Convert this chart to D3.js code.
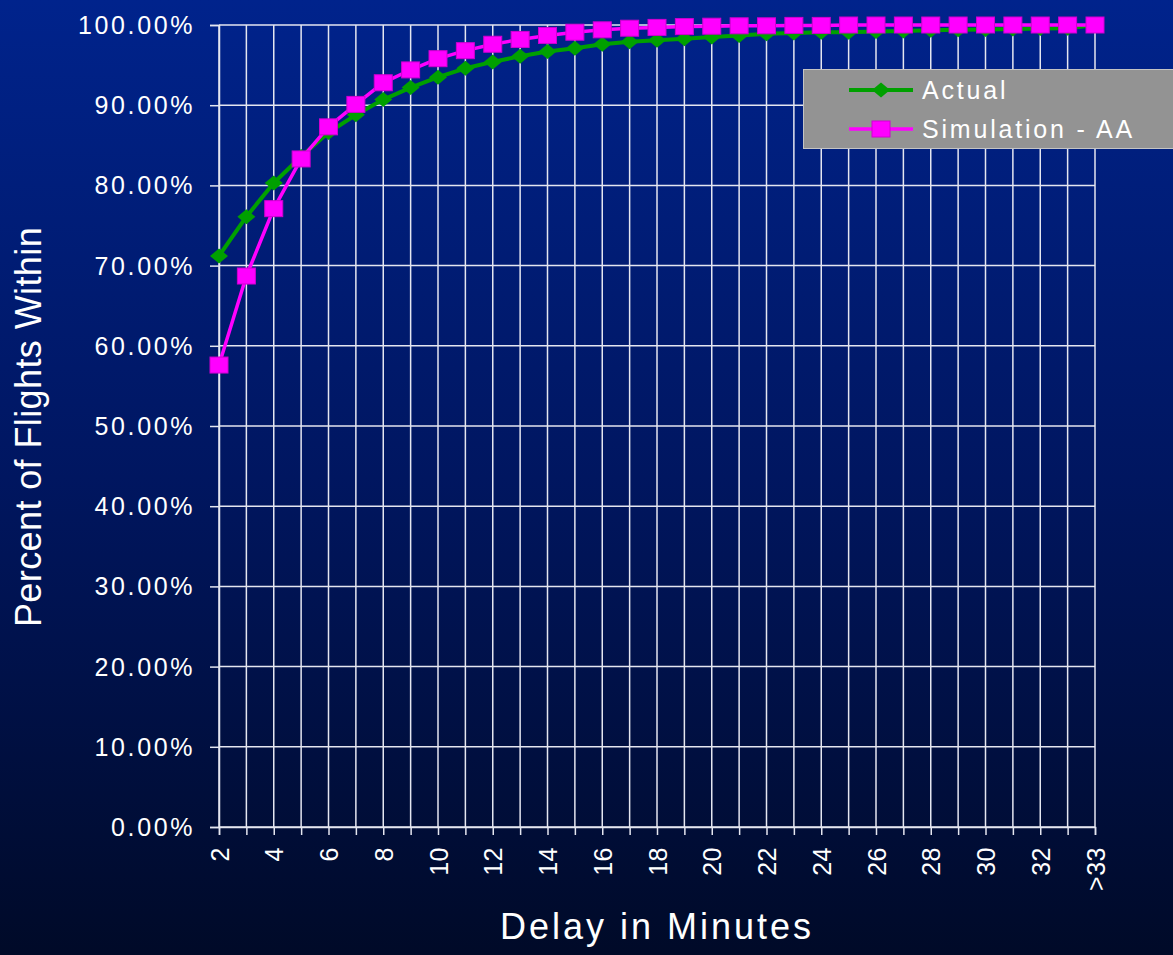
<!DOCTYPE html>
<html>
<head>
<meta charset="utf-8">
<script src="https://cdn.jsdelivr.net/npm/d3@7"></script>
<style>
  html, body { margin: 0; padding: 0; background: #000B2A; }
  svg { display: block; }
  text { font-family: "Liberation Sans", Arial, sans-serif; fill: #ffffff; }
</style>
</head>
<body>
<svg id="chart" width="1173" height="955"></svg>
<script>
// Delay categories (minutes)
const categories = ["2","3","4","5","6","7","8","9","10","11","12","13","14","15","16","17",
  "18","19","20","21","22","23","24","25","26","27","28","29","30","31","32","33",">33"];

// Cumulative percent of flights within each delay
const actual = [71.2, 76.1, 80.3, 83.6, 86.6, 88.8, 90.7, 92.2, 93.5, 94.6, 95.4, 96.1,
  96.7, 97.1, 97.6, 97.9, 98.1, 98.3, 98.5, 98.7, 98.9, 99.0, 99.1, 99.1, 99.2, 99.25,
  99.35, 99.4, 99.45, 99.5, 99.55, 99.6, 100.0];
const simulationAA = [57.6, 68.7, 77.1, 83.3, 87.3, 90.1, 92.8, 94.4, 95.8, 96.8, 97.6,
  98.2, 98.7, 99.1, 99.4, 99.6, 99.7, 99.8, 99.85, 99.9, 99.9, 99.95, 99.95, 100, 100,
  100, 100, 100, 100, 100, 100, 100, 100];

const yTicks = [0, 10, 20, 30, 40, 50, 60, 70, 80, 90, 100];
const xTickLabels = ["2","4","6","8","10","12","14","16","18","20","22","24","26","28","30","32",">33"];

const seriesNames = ["Actual", "Simulation - AA"];

const svg = d3.select("#chart");
const W = 1173, H = 955;

// Background gradient
const defs = svg.append("defs");
const grad = defs.append("linearGradient").attr("id", "bg")
  .attr("x1", 0).attr("y1", 0).attr("x2", 0).attr("y2", 1);
grad.append("stop").attr("offset", "0%").attr("stop-color", "#00238C");
grad.append("stop").attr("offset", "50%").attr("stop-color", "#001660");
grad.append("stop").attr("offset", "100%").attr("stop-color", "#000A28");
svg.append("rect").attr("width", W).attr("height", H).attr("fill", "url(#bg)");

const plotLeft = 219, plotRight = 1095, plotTop = 25, plotBottom = 827;

const x = d3.scalePoint().domain(categories).range([plotLeft, plotRight]);
const y = d3.scaleLinear().domain([0, 100]).range([plotBottom, plotTop]);

const gridColor = "#e4e6f0";

// Vertical gridlines
svg.append("g").selectAll("line").data(categories).join("line")
  .attr("x1", d => x(d)).attr("x2", d => x(d))
  .attr("y1", plotTop).attr("y2", plotBottom)
  .attr("stroke", gridColor).attr("stroke-width", 1.5);

// Horizontal gridlines
svg.append("g").selectAll("line").data(yTicks).join("line")
  .attr("x1", plotLeft).attr("x2", plotRight)
  .attr("y1", d => y(d)).attr("y2", d => y(d))
  .attr("stroke", gridColor).attr("stroke-width", 1.5);

// Y axis
const yAxis = svg.append("g").attr("transform", `translate(${plotLeft},0)`)
  .call(d3.axisLeft(y).tickValues(yTicks).tickSize(9).tickPadding(15)
    .tickFormat(d => d.toFixed(2) + "%"));
yAxis.select(".domain").attr("stroke", gridColor).attr("stroke-width", 1.5);
yAxis.selectAll(".tick line").attr("stroke", gridColor).attr("stroke-width", 1.5);
yAxis.selectAll(".tick text")
  .attr("fill", "#ffffff").attr("font-size", 25).attr("letter-spacing", "2.6px")
  .attr("font-family", "Liberation Sans, Arial, sans-serif")
  .attr("dy", "0.34em");

// X axis
const xAxis = svg.append("g").attr("transform", `translate(0,${plotBottom})`)
  .call(d3.axisBottom(x).tickSize(8)
    .tickFormat(d => xTickLabels.includes(d) ? d : ""));
xAxis.select(".domain").attr("stroke", gridColor).attr("stroke-width", 1.5);
xAxis.selectAll(".tick line").attr("stroke", gridColor).attr("stroke-width", 1.5);
xAxis.selectAll(".tick text")
  .attr("fill", "#ffffff").attr("font-size", 25).attr("letter-spacing", "0.5px")
  .attr("font-family", "Liberation Sans, Arial, sans-serif")
  .attr("text-anchor", "end")
  .attr("dy", null)
  .attr("y", 0)
  .attr("dominant-baseline", "central")
  .attr("transform", "translate(0,20) rotate(-90)");

// Axis titles
svg.append("text")
  .attr("x", (plotLeft + plotRight) / 2).attr("y", 939)
  .attr("text-anchor", "middle").attr("font-size", 36)
  .attr("letter-spacing", "3px")
  .text("Delay in Minutes");

svg.append("text")
  .attr("transform", "translate(41,427) rotate(-90)")
  .attr("text-anchor", "middle").attr("font-size", 36)
  .attr("letter-spacing", "0.4px")
  .text("Percent of Flights Within");

// Series
const green = "#00A000", pink = "#FF00FF";
const lineGen = d3.line().x((d, i) => x(categories[i])).y(d => y(d));
const diamond = "M0,-7.5L9,0L0,7.5L-9,0Z";

svg.append("path").datum(actual)
  .attr("d", lineGen).attr("fill", "none")
  .attr("stroke", green).attr("stroke-width", 4).attr("stroke-linejoin", "round");
svg.append("g").selectAll("path").data(actual).join("path")
  .attr("d", diamond)
  .attr("transform", (d, i) => `translate(${x(categories[i])},${y(d)})`)
  .attr("fill", green);

svg.append("path").datum(simulationAA)
  .attr("d", lineGen).attr("fill", "none")
  .attr("stroke", pink).attr("stroke-width", 3.5).attr("stroke-linejoin", "round");
svg.append("g").selectAll("rect").data(simulationAA).join("rect")
  .attr("x", (d, i) => x(categories[i]) - 9)
  .attr("y", d => y(d) - 8)
  .attr("width", 18).attr("height", 16)
  .attr("fill", pink).attr("stroke", "#d000d0").attr("stroke-width", 1);

// Legend
const legend = svg.append("g");
legend.append("rect")
  .attr("x", 803.5).attr("y", 69.5).attr("width", 372).attr("height", 79)
  .attr("fill", "#939393").attr("stroke", "#c4c4c4").attr("stroke-width", 1);

const legendRows = [
  { name: seriesNames[0], color: green, y: 90, marker: "diamond", width: 4 },
  { name: seriesNames[1], color: pink, y: 129, marker: "square", width: 3.5 }
];
legendRows.forEach(r => {
  legend.append("line")
    .attr("x1", 849).attr("x2", 913).attr("y1", r.y).attr("y2", r.y)
    .attr("stroke", r.color).attr("stroke-width", r.width);
  if (r.marker === "diamond") {
    legend.append("path").attr("d", diamond)
      .attr("transform", `translate(881,${r.y})`).attr("fill", r.color);
  } else {
    legend.append("rect").attr("x", 872).attr("y", r.y - 8)
      .attr("width", 18).attr("height", 16)
      .attr("fill", r.color).attr("stroke", "#d000d0").attr("stroke-width", 1);
  }
  legend.append("text")
    .attr("x", 922).attr("y", r.y + 9)
    .attr("font-size", 25).attr("letter-spacing", "2.8px")
    .text(r.name);
});
</script>
</body>
</html>
